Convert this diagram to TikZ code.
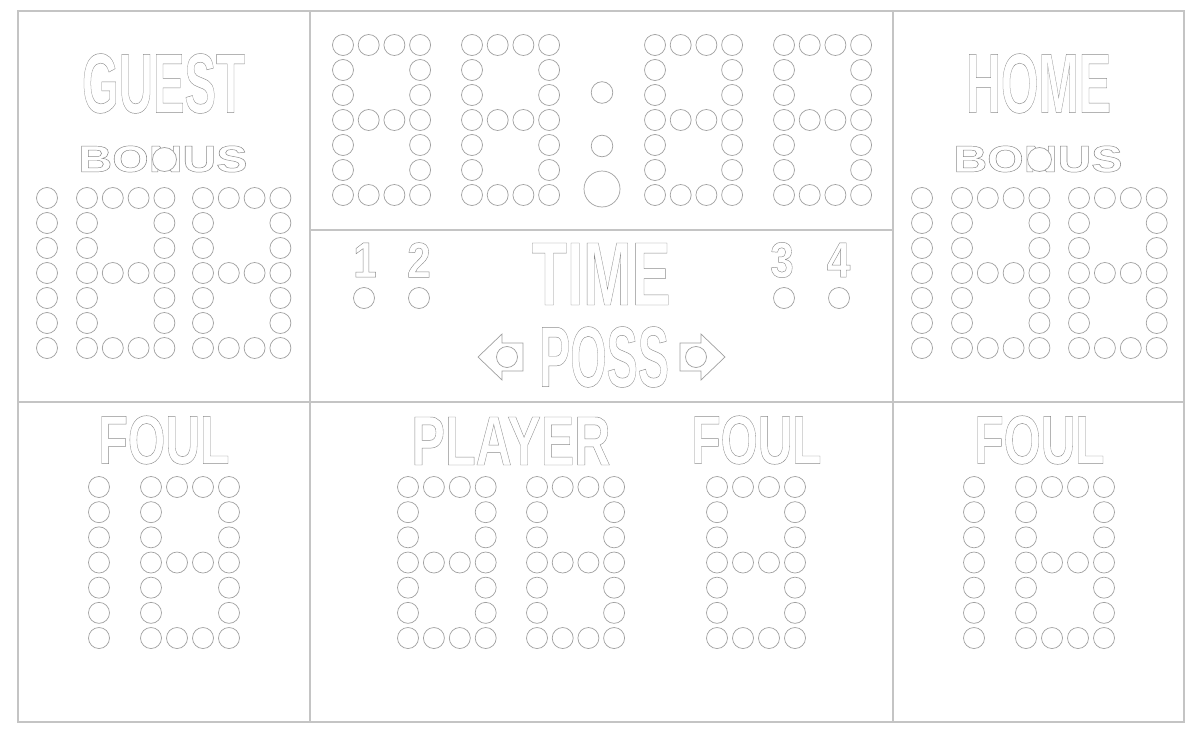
\documentclass[tikz,border=0pt]{standalone}
\usepackage{fontspec}
\usepackage{graphicx}
\newfontfamily\lsb{Liberation Sans}
\definecolor{framegray}{HTML}{C4C4C4}
\definecolor{ledgray}{HTML}{A0A0A0}
\definecolor{txtgray}{HTML}{8C8C8C}
\newcommand\outl[1]{\special{pdf:literal direct 1 Tr 0.45 w}#1\special{pdf:literal direct 0 Tr}}
\newcommand\lbl[4]{\resizebox{#1pt}{#2pt}{\fontsize{#3}{#3}\selectfont\lsb\bfseries\outl{#4}}}
\newcommand\digl[1]{\scalebox{0.85}[1]{\fontsize{50}{50}\selectfont\lsb\bfseries\outl{#1}}}
\tikzset{
  frameline/.style={draw=framegray, line width=1.2pt},
  led/.style={draw=ledgray, line width=0.7pt},
  lab/.style={inner sep=0pt, outer sep=0pt, text=txtgray, anchor=center},
}
\newcommand\eightdig[4]{%
  \foreach \r in {0,...,6}{%
    \foreach \c in {0,...,3}{%
      \pgfmathtruncatemacro\ledon{(\r==0)||(\r==3)||(\r==6)||(\c==0)||(\c==3)}%
      \ifnum\ledon=1 \draw[led] (#1+\c*#3, #2+\r*#4) circle[radius=10.5];\fi
    }%
  }%
}
\newcommand\onedig[3]{%
  \foreach \r in {0,...,6}{\draw[led] (#1, #2+\r*#3) circle[radius=10.5];}%
}
\begin{document}
\begin{tikzpicture}[x=1pt,y=-1pt]
\fill[white] (0,0) rectangle (1200,736);
\useasboundingbox (0,0) rectangle (1200,736);
% frame
\draw[frameline] (18,11) rectangle (1184,722);
\draw[frameline] (310,11) -- (310,722);
\draw[frameline] (893,11) -- (893,722);
\draw[frameline] (18,402) -- (1184,402);
\draw[frameline] (310,230) -- (893,230);
% labels
\node[lab] (guest) at (163.5,83.5) {\lbl{163}{59}{82}{GUEST}};
\node[lab] (home) at (1038.5,83.5) {\lbl{145}{59}{82}{HOME}};
\node[lab] (bonusg) at (163,159) {\lbl{169}{26}{36}{BONUS}};
\node[lab] (bonush) at (1038,159) {\lbl{169}{26}{36}{BONUS}};
\draw[led, fill=white] (164.5,159.5) circle[radius=12];
\draw[led, fill=white] (1039.5,159.5) circle[radius=12];
\node[lab] (time) at (601,274) {\lbl{139}{62}{86}{TIME}};
\node[lab] (poss) at (604,357) {\lbl{130}{60}{82}{POSS}};
\node[lab] (foulg) at (164,440) {\lbl{131}{48}{67}{FOUL}};
\node[lab] (player) at (511,441) {\lbl{199}{48}{67}{PLAYER}};
\node[lab] (foulp) at (756.5,440) {\lbl{130}{48}{67}{FOUL}};
\node[lab] (foulh) at (1039.5,440) {\lbl{130}{48}{67}{FOUL}};
\node[lab] (p1) at (365,260) {\digl{1}};
\node[lab] (p2) at (419,260) {\digl{2}};
\node[lab] (p3) at (782,260) {\digl{3}};
\node[lab] (p4) at (838.5,260) {\digl{4}};
% period lights
\foreach \x in {364,419,784,839} \draw[led] (\x,298) circle[radius=10.5];
% possession arrows
\draw[led] (478,357) -- (502,334) -- (502,343) -- (523,343) -- (523,371) -- (502,371) -- (502,380) -- cycle;
\draw[led] (507,357) circle[radius=10.5];
\draw[led] (725,357) -- (701,334) -- (701,343) -- (680,343) -- (680,371) -- (701,371) -- (701,380) -- cycle;
\draw[led] (696,357) circle[radius=10.5];
% guest score
\onedig{47}{198}{25}
\eightdig{87}{198}{25.8}{25}
\eightdig{203}{198}{25.8}{25}
% home score
\onedig{922}{198}{25}
\eightdig{962}{198}{25.8}{25}
\eightdig{1079}{198}{25.9}{25}
% clock
\eightdig{343}{45}{25.7}{25}
\eightdig{472}{45}{25.7}{25}
\eightdig{655}{45}{25.7}{25}
\eightdig{784}{45}{25.7}{25}
\draw[led] (602,92.5) circle[radius=10.8];
\draw[led] (602,146) circle[radius=10.8];
\draw[led] (602,189) circle[radius=18];
% fouls / player
\onedig{99}{487}{25.17}
\eightdig{151}{487}{26}{25.17}
\eightdig{408}{487}{25.9}{25.17}
\eightdig{537}{487}{25.7}{25.17}
\eightdig{717}{487}{26}{25.17}
\onedig{974}{487}{25.17}
\eightdig{1026}{487}{26}{25.17}
\end{tikzpicture}
\end{document}
